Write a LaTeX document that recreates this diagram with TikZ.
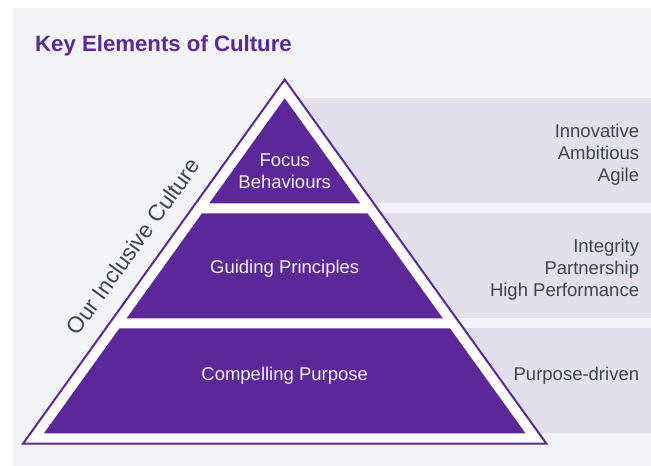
\documentclass[tikz,border=0pt]{standalone}
\usepackage{fontspec}
\setmainfont{Liberation Sans}
\definecolor{panel}{HTML}{F3F4F8}
\definecolor{band}{HTML}{E2E0EC}
\definecolor{pp}{HTML}{5C2799}
\definecolor{txt}{HTML}{3E4650}
\definecolor{wtxt}{HTML}{F4F1F8}
\tikzset{
  tier/.style={fill=pp},
  bandbox/.style={fill=band},
  wlabel/.style={text=wtxt,font=\fontsize{18.5}{21.5}\selectfont,inner sep=0pt,anchor=base},
  rlabel/.style={text=txt,font=\fontsize{18.5}{21.5}\selectfont,inner sep=0pt,anchor=base east},
}
\begin{document}
\begin{tikzpicture}[x=1pt,y=-1pt]
\useasboundingbox (0,0) rectangle (651,466);
\fill[white] (0,0) rectangle (651,466);
\fill[panel] (13,8) rectangle (651,466);
% bands
\fill[bandbox] (280,97.7) rectangle (651,203.3);
\fill[bandbox] (280,213.3) rectangle (651,318.3);
\fill[bandbox] (280,328.3) rectangle (651,433.3);
% outer triangle
\coordinate (apex) at (284.7,79.5);
\coordinate (bl) at (23.1,443.5);
\coordinate (br) at (546.3,443.5);
\draw[pp,fill=white,line width=2pt,line join=miter] (apex) -- (br) -- (bl) -- cycle;
% tiers
\fill[tier] (284.7,98.3) -- (360.2,203.3) -- (209.2,203.3) -- cycle;
\fill[tier] (202.0,213.3) -- (367.4,213.3) -- (442.8,318.3) -- (126.6,318.3) -- cycle;
\fill[tier] (119.4,328.3) -- (450.0,328.3) -- (525.5,433.3) -- (43.9,433.3) -- cycle;
% title
\node[text=pp,font=\fontsize{22.2}{26}\selectfont\bfseries,inner sep=0pt,anchor=base west] (title) at (35,51) {Key Elements of Culture};
% tier labels
\node[wlabel] (focus1) at (284.7,166.7) {Focus};
\node[wlabel] (focus2) at (284.7,188.0) {Behaviours};
\node[wlabel] (guiding) at (284.7,273.5) {Guiding Principles};
\node[wlabel] (purpose) at (284.7,380.7) {Compelling Purpose};
% right labels
\node[rlabel] (r1a) at (639.3,137.7) {Innovative};
\node[rlabel] (r1b) at (639.3,159.5) {Ambitious};
\node[rlabel] (r1c) at (639.3,181.3) {Agile};
\node[rlabel] (r2a) at (639.3,252.0) {Integrity};
\node[rlabel] (r2b) at (639.3,274.0) {Partnership};
\node[rlabel] (r2c) at (639.3,296.0) {High Performance};
\node[rlabel] (r3) at (639.3,380.7) {Purpose-driven};
% side label
\node[text=txt,font=\fontsize{22.6}{26}\selectfont,inner sep=0pt,anchor=base,rotate=54.27] (side) at (139.5,251.3) {Our Inclusive Culture};
\end{tikzpicture}
\end{document}
